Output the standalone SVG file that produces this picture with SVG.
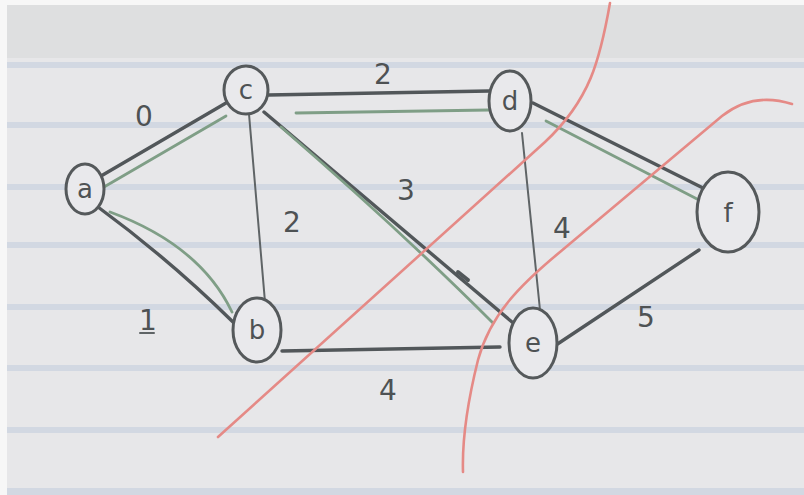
<svg xmlns="http://www.w3.org/2000/svg" width="804" height="495" viewBox="0 0 804 495">
<defs>
<style>
.band{fill:#c9d1de;opacity:0.7}
.pen{stroke:#52575a;stroke-width:3.4;fill:none;stroke-linecap:round}
.thin{stroke:#5f6466;stroke-width:2;fill:none;stroke-linecap:round}
.grn{stroke:#7f9e86;stroke-width:2.8;fill:none;stroke-linecap:round}
.red{stroke:#e58a86;stroke-width:2.6;fill:none;stroke-linecap:round}
.node ellipse{fill:#e9e9ec;stroke:#55595b;stroke-width:3}
.lbl{font-family:"DejaVu Sans","Liberation Sans",sans-serif;fill:#4e5254;text-anchor:middle}
.nl{font-size:26px}
.wl{font-size:28px}
</style>
</defs>
<rect x="0" y="0" width="804" height="495" fill="#e7e7e9"/>
<rect x="0" y="0" width="804" height="58" fill="#dedfe0"/>
<g id="paper-lines">
<rect class="band" x="0" y="62" width="804" height="6"/>
<rect class="band" x="0" y="122" width="804" height="6"/>
<rect class="band" x="0" y="184" width="804" height="6"/>
<rect class="band" x="0" y="242" width="804" height="6"/>
<rect class="band" x="0" y="304" width="804" height="6"/>
<rect class="band" x="0" y="365" width="804" height="6"/>
<rect class="band" x="0" y="427" width="804" height="6"/>
<rect class="band" x="0" y="488" width="804" height="7"/>
</g>
<rect x="0" y="0" width="7" height="495" fill="#f7f7f7"/>
<rect x="0" y="0" width="804" height="5" fill="#f7f7f7"/>

<g id="connectors">
<!-- a-c -->
<path class="pen" d="M101 176 L226 103"/>
<path class="grn" d="M104 187 L226 116"/>
<!-- a-b -->
<path class="pen" d="M98 207 Q170 260 233 322"/>
<path class="grn" d="M110 212 Q200 245 232 312"/>
<!-- c-b -->
<path class="thin" d="M249 114 L265 302"/>
<!-- c-d -->
<path class="pen" d="M268 95 L489 91"/>
<path class="grn" d="M296 113 L489 110"/>
<!-- c-e -->
<path class="pen" d="M264 112 L512 322"/>
<path class="grn" d="M281 127 Q400 230 493 323"/>
<path class="pen" d="M458 272 L468 280" style="stroke-width:4"/>
<!-- d-e -->
<path class="thin" d="M522 133 L540 310"/>
<!-- d-f -->
<path class="pen" d="M533 103 L707 190"/>
<path class="grn" d="M546 121 L699 200"/>
<!-- b-e -->
<path class="pen" d="M282 351 L500 347"/>
<!-- e-f -->
<path class="pen" d="M556 345 L699 250"/>
</g>

<g id="cuts">
<path class="red" d="M610 3 C600 60 590 100 545 142 L218 437"/>
<path class="red" d="M792 104 C770 97 745 98 722 116 L560 252 C520 285 490 315 478 360 C468 400 462 440 463 472"/>
</g>

<g id="node-a" class="node"><ellipse cx="85" cy="189" rx="19" ry="25"/><text class="lbl nl" x="85" y="198">a</text></g>
<g id="node-c" class="node"><ellipse cx="246" cy="90" rx="22" ry="24"/><text class="lbl nl" x="246" y="99">c</text></g>
<g id="node-d" class="node"><ellipse cx="510" cy="101" rx="21" ry="30"/><text class="lbl nl" x="510" y="110">d</text></g>
<g id="node-f" class="node"><ellipse cx="728" cy="212" rx="31" ry="40"/><text class="lbl nl" x="728" y="222">f</text></g>
<g id="node-b" class="node"><ellipse cx="257" cy="330" rx="24" ry="32"/><text class="lbl nl" x="257" y="339">b</text></g>
<g id="node-e" class="node"><ellipse cx="533" cy="343" rx="24" ry="35"/><text class="lbl nl" x="533" y="352">e</text></g>

<g id="weights">
<text class="lbl wl" x="144" y="126">0</text>
<text class="lbl wl" x="383" y="84">2</text>
<text class="lbl wl" x="292" y="232">2</text>
<text class="lbl wl" x="406" y="200">3</text>
<text class="lbl wl" x="562" y="238">4</text>
<text class="lbl wl" x="148" y="330">1</text>
<path class="thin" d="M140 333 L154 333"/>
<text class="lbl wl" x="388" y="400">4</text>
<text class="lbl wl" x="646" y="327">5</text>
</g>
</svg>
